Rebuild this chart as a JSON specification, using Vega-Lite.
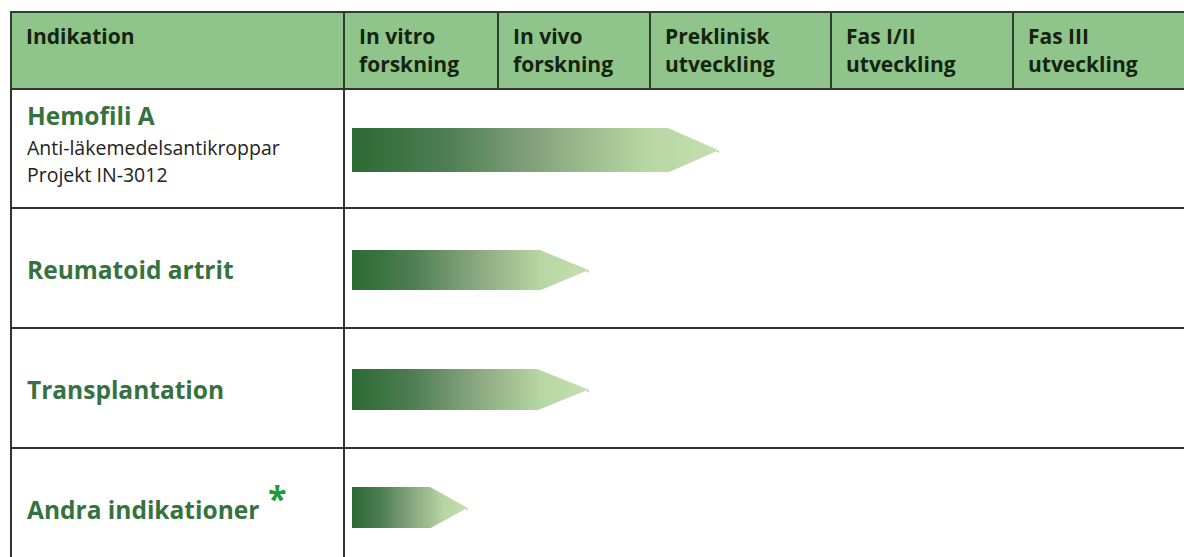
{
  "$schema": "https://vega.github.io/schema/vega-lite/v6.json",
  "width": 1184,
  "height": 557,
  "autosize": "none",
  "padding": 0,
  "background": "white",
  "config": {"view": {"stroke": null}},
  "datasets": {
    "header": [
      {"col": -1, "right": 0, "label": "Indikation"},
      {"col": 0, "right": 1, "label": "In vitro\nforskning"},
      {"col": 1, "right": 2, "label": "In vivo\nforskning"},
      {"col": 2, "right": 3, "label": "Preklinisk\nutveckling"},
      {"col": 3, "right": 4, "label": "Fas I/II\nutveckling"},
      {"col": 4, "right": 5, "label": "Fas III\nutveckling"}
    ],
    "rows": [
      {"indication": "Hemofili A", "row": 0, "rowEnd": 1, "detail": "Anti-läkemedelsantikroppar\nProjekt IN-3012"},
      {"indication": "Reumatoid artrit", "row": 1, "rowEnd": 2, "detail": ""},
      {"indication": "Transplantation", "row": 2, "rowEnd": 3, "detail": ""},
      {"indication": "Andra indikationer", "row": 3, "rowEnd": 4, "detail": ""}
    ],
    "arrows": [
      {"indication": "Hemofili A", "x": 0.052, "top": 0.328, "bottom": 0.697},
      {"indication": "Hemofili A", "x": 2.1, "top": 0.328, "bottom": 0.697},
      {"indication": "Hemofili A", "x": 2.376, "top": 0.513, "bottom": 0.513},
      {"indication": "Reumatoid artrit", "x": 0.052, "top": 1.35, "bottom": 1.683},
      {"indication": "Reumatoid artrit", "x": 1.276, "top": 1.35, "bottom": 1.683},
      {"indication": "Reumatoid artrit", "x": 1.592, "top": 1.515, "bottom": 1.515},
      {"indication": "Transplantation", "x": 0.052, "top": 2.342, "bottom": 2.683},
      {"indication": "Transplantation", "x": 1.257, "top": 2.342, "bottom": 2.683},
      {"indication": "Transplantation", "x": 1.592, "top": 2.51, "bottom": 2.51},
      {"indication": "Andra indikationer", "x": 0.052, "top": 3.325, "bottom": 3.667},
      {"indication": "Andra indikationer", "x": 0.558, "top": 3.325, "bottom": 3.667},
      {"indication": "Andra indikationer", "x": 0.799, "top": 3.496, "bottom": 3.496}
    ]
  },
  "resolve": {"scale": {"x": "shared", "y": "shared"}},
  "layer": [
    {
      "data": {"name": "header"},
      "mark": {"type": "rect", "fill": "#8fc58a", "stroke": "#2f3f2f", "strokeWidth": 2},
      "encoding": {
        "x": {"field": "col", "type": "quantitative", "axis": null,
              "scale": {"domain": [-1, 0, 1, 2, 3, 4, 5], "range": [11, 344, 498, 650, 831, 1013, 1196], "nice": false, "zero": false}},
        "x2": {"field": "right"},
        "y": {"datum": -1, "type": "quantitative", "axis": null,
              "scale": {"domain": [-1, 0, 1, 2, 3, 4], "range": [12, 89, 208, 328, 448, 568], "nice": false, "zero": false}},
        "y2": {"datum": 0}
      }
    },
    {
      "data": {"name": "rows"},
      "mark": {"type": "rect", "fill": "white", "stroke": "#333333", "strokeWidth": 2},
      "encoding": {
        "x": {"datum": -1, "type": "quantitative"},
        "x2": {"datum": 0},
        "y": {"field": "row", "type": "quantitative"},
        "y2": {"field": "rowEnd"}
      }
    },
    {
      "data": {"name": "rows"},
      "mark": {"type": "rect", "fill": "white", "stroke": "#333333", "strokeWidth": 2},
      "encoding": {
        "x": {"datum": 0, "type": "quantitative"},
        "x2": {"datum": 5},
        "y": {"field": "row", "type": "quantitative"},
        "y2": {"field": "rowEnd"}
      }
    },
    {
      "data": {"name": "header"},
      "mark": {"type": "text", "align": "left", "baseline": "alphabetic", "dx": 15, "dy": 32, "lineBreak": "\n", "lineHeight": 28, "font": "Open Sans", "fontWeight": "bold", "fontSize": 21, "color": "#15240f"},
      "encoding": {
        "x": {"field": "col", "type": "quantitative"},
        "y": {"datum": -1, "type": "quantitative"},
        "text": {"field": "label"}
      }
    },
    {
      "data": {"name": "arrows"},
      "mark": {"type": "area", "orient": "vertical", "color": "#9a9a9a", "opacity": 0.5, "xOffset": 1, "yOffset": 3},
      "encoding": {
        "x": {"field": "x", "type": "quantitative"},
        "y": {"field": "top", "type": "quantitative"},
        "y2": {"field": "bottom"},
        "detail": {"field": "indication"}
      }
    },
    {
      "data": {"name": "arrows"},
      "mark": {"type": "area", "orient": "vertical",
               "color": {"gradient": "linear", "x1": 0, "y1": 0, "x2": 1, "y2": 0,
                         "stops": [{"offset": 0, "color": "#2b6a33"}, {"offset": 0.25, "color": "#4d7d52"}, {"offset": 0.5, "color": "#84a37c"}, {"offset": 0.8, "color": "#b6d6a2"}, {"offset": 1, "color": "#c4dfb0"}]}},
      "encoding": {
        "x": {"field": "x", "type": "quantitative"},
        "y": {"field": "top", "type": "quantitative"},
        "y2": {"field": "bottom"},
        "detail": {"field": "indication"}
      }
    },
    {
      "data": {"name": "rows"},
      "transform": [{"filter": "datum.row == 0"}],
      "mark": {"type": "text", "align": "left", "baseline": "alphabetic", "dx": 16, "dy": 36, "font": "Open Sans", "fontWeight": "bold", "fontSize": 24.5, "color": "#367240"},
      "encoding": {
        "x": {"datum": -1, "type": "quantitative"},
        "y": {"field": "row", "type": "quantitative"},
        "text": {"field": "indication"}
      }
    },
    {
      "data": {"name": "rows"},
      "transform": [{"filter": "datum.row == 0"}],
      "mark": {"type": "text", "align": "left", "baseline": "alphabetic", "dx": 16, "dy": 66, "lineBreak": "\n", "lineHeight": 27, "font": "Open Sans", "fontSize": 19.5, "color": "#222222"},
      "encoding": {
        "x": {"datum": -1, "type": "quantitative"},
        "y": {"field": "row", "type": "quantitative"},
        "text": {"field": "detail"}
      }
    },
    {
      "data": {"name": "rows"},
      "transform": [{"filter": "datum.row > 0"}],
      "mark": {"type": "text", "align": "left", "baseline": "alphabetic", "dx": 16, "dy": 71, "font": "Open Sans", "fontWeight": "bold", "fontSize": 24.5, "color": "#367240"},
      "encoding": {
        "x": {"datum": -1, "type": "quantitative"},
        "y": {"field": "row", "type": "quantitative"},
        "text": {"field": "indication"}
      }
    },
    {
      "data": {"name": "rows"},
      "transform": [{"filter": "datum.row == 3"}],
      "mark": {"type": "text", "align": "left", "baseline": "alphabetic", "dx": 257, "dy": 63, "font": "Open Sans", "fontWeight": "bold", "fontSize": 34, "color": "#1f9a3a", "text": "*"},
      "encoding": {
        "x": {"datum": -1, "type": "quantitative"},
        "y": {"field": "row", "type": "quantitative"}
      }
    }
  ]
}
